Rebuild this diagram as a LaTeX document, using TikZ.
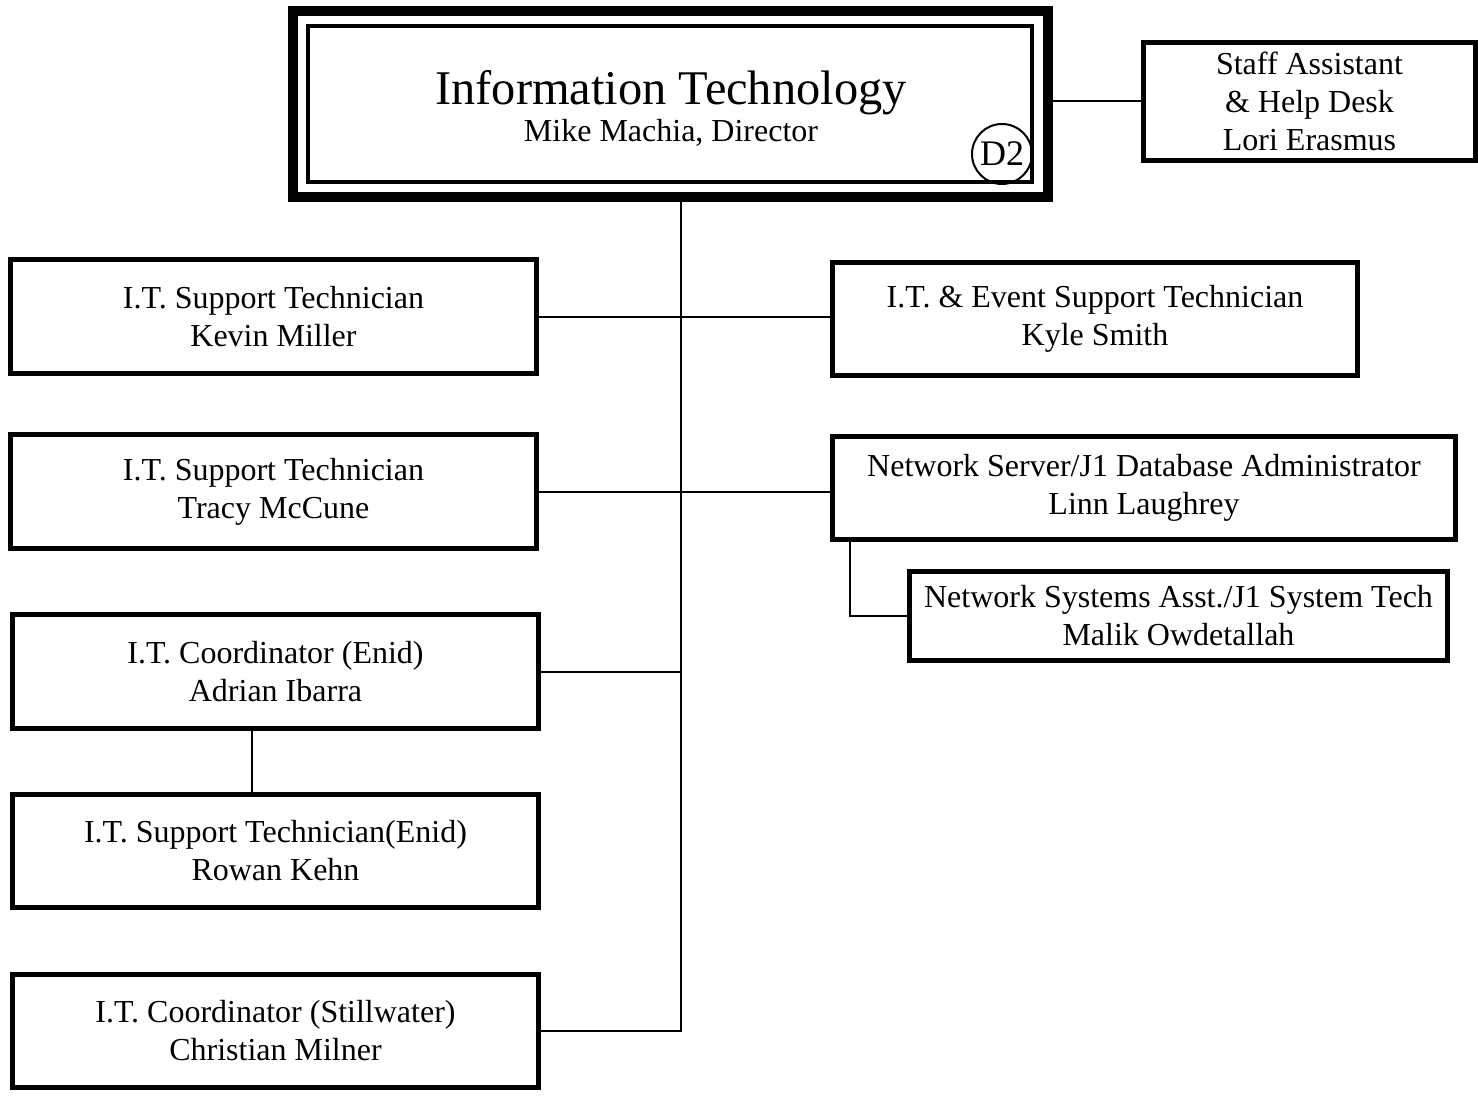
\documentclass[tikz,border=0pt]{standalone}
\usepackage{fontspec}
\setmainfont{Liberation Serif}
\begin{document}
\begin{tikzpicture}[x=0.5pt,y=-0.5pt,
  box/.style={draw, line width=2.4pt, inner sep=0pt, align=center,
    font=\fontsize{16}{19}\selectfont},
  conn/.style={line width=1pt},
  txt/.style={inner sep=0pt, align=center}]
\useasboundingbox (0,0) rectangle (1478,1097);
% main box
\node[draw, line width=5pt, minimum width=377.5pt, minimum height=93pt] (main) at (670.5,104) {};
\node[draw, line width=2pt, minimum width=362pt, minimum height=78pt] (maininner) at (670,104) {};
\node[txt, font=\fontsize{24.2}{28}\selectfont] (title) at (671,93) {Information Technology};
\node[txt, font=\fontsize{16}{19}\selectfont] (sub) at (671,133) {Mike Machia, Director};
\node[draw, circle, line width=1pt, minimum size=30pt, inner sep=0pt, font=\fontsize{18}{20}\selectfont] (d2) at (1002,154) {D2};
% other boxes
\node[box, minimum width=166pt, minimum height=59pt] (staff) at (1309.5,101.5) {Staff Assistant\\ \& Help Desk\\ Lori Erasmus};
\node[box, minimum width=263pt, minimum height=57pt] (kevin) at (273.5,316.5) {I.T. Support Technician\\ Kevin Miller};
\node[box, minimum width=262.5pt, minimum height=56.5pt] (kyle) at (1095,319) {I.T. \& Event Support Technician\\ Kyle Smith};
\node[box, minimum width=263pt, minimum height=57pt] (tracy) at (273.5,491.5) {I.T. Support Technician\\ Tracy McCune};
\node[box, minimum width=311.5pt, minimum height=51.5pt] (linn) at (1144,488) {Network Server/J1 Database Administrator\\ Linn Laughrey};
\node[box, minimum width=269pt, minimum height=44.5pt] (malik) at (1178.5,616) {Network Systems Asst./J1 System Tech\\ Malik Owdetallah};
\node[box, minimum width=263pt, minimum height=57pt] (adrian) at (275.5,671.5) {I.T. Coordinator (Enid)\\ Adrian Ibarra};
\node[box, minimum width=263pt, minimum height=56.5pt] (rowan) at (275.5,851) {I.T. Support Technician(Enid)\\ Rowan Kehn};
\node[box, minimum width=263pt, minimum height=56.5pt] (christian) at (275.5,1031) {I.T. Coordinator (Stillwater)\\ Christian Milner};
% helper coordinates
\coordinate (tx) at (681,0);
\coordinate (rx) at (252,0);
\coordinate (mx) at (850,0);
% connectors
\draw[conn] (main.east |- staff.west) -- (staff.west);
\draw[conn] (main.south -| tx) -- (christian.east -| tx) -- (christian.east);
\draw[conn] (kevin.east) -- (kyle.west |- kevin.east);
\draw[conn] (tracy.east) -- (linn.west |- tracy.east);
\draw[conn] (adrian.east) -- (adrian.east -| tx);
\draw[conn] (adrian.south -| rx) -- (rowan.north -| rx);
\draw[conn] (linn.south -| mx) |- (malik.west);
\end{tikzpicture}
\end{document}
